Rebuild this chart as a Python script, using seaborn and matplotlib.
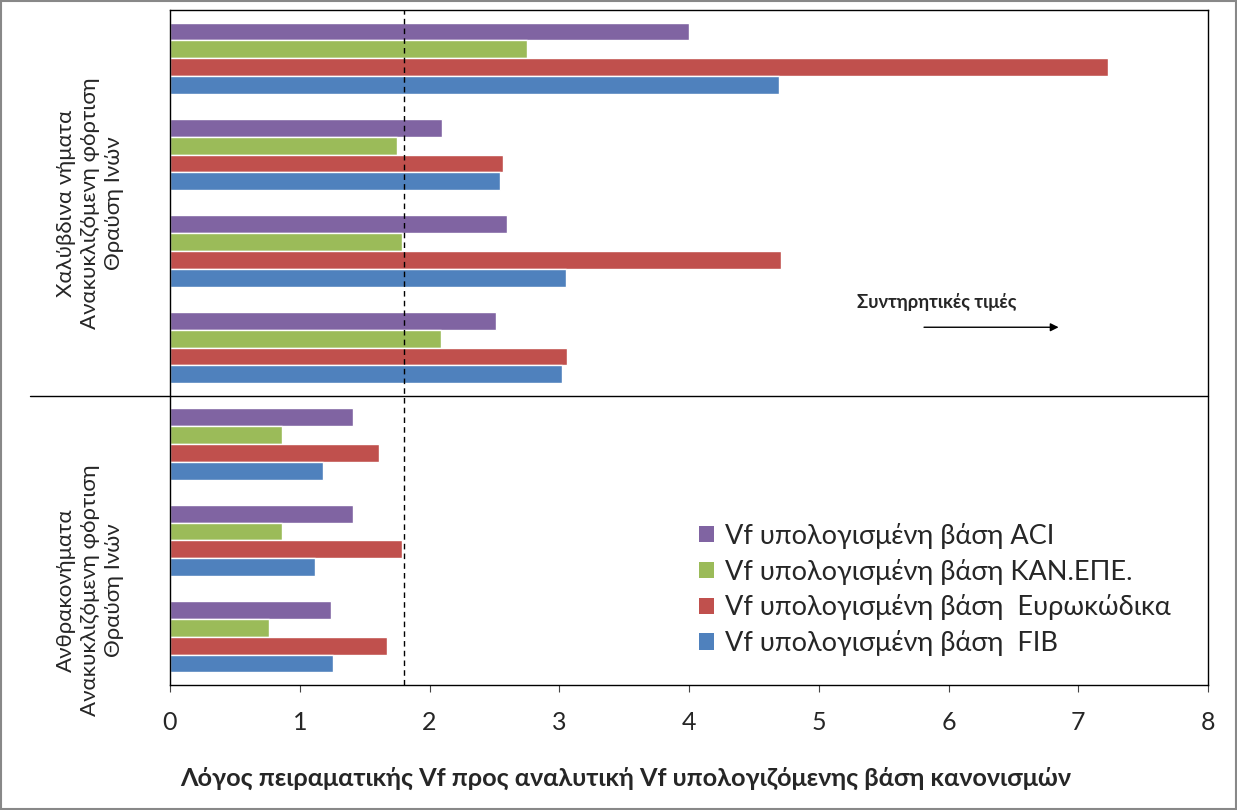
import matplotlib
matplotlib.use("Agg")
import matplotlib.pyplot as plt
import seaborn as sns
import pandas as pd
from matplotlib.patches import Patch, Rectangle

sns.set_theme(style="white")
plt.rcParams['font.family'] = ['Lato', 'DejaVu Sans']

# Data (top to bottom)
categories = ["Δ1", "Δ2", "Δ3", "Δ4", "Δ5", "Δ6", "Δ7"]
series = ["Vf υπολογισμένη βάση ACI",
          "Vf υπολογισμένη βάση ΚΑΝ.ΕΠΕ.",
          "Vf υπολογισμένη βάση  Ευρωκώδικα",
          "Vf υπολογισμένη βάση  FIB"]
aci = [4.00, 2.10, 2.60, 2.51, 1.41, 1.41, 1.24]
kan = [2.75, 1.75, 1.79, 2.09, 0.86, 0.86, 0.76]
ec = [7.23, 2.57, 4.71, 3.06, 1.61, 1.79, 1.67]
fib = [4.69, 2.54, 3.05, 3.02, 1.18, 1.12, 1.26]
colors = ["#8064A2", "#9BBB59", "#C0504D", "#4F81BD"]
group_labels = ["Χαλύβδινα νήματα\nΑνακυκλιζόμενη φόρτιση\nΘραύση Ινών",
                "Ανθρακονήματα\nΑνακυκλιζόμενη φόρτιση\nΘραύση Ινών"]
xticks = [0, 1, 2, 3, 4, 5, 6, 7, 8]
ref_value = 1.8
xlabel = "Λόγος πειραματικής Vf προς αναλυτική Vf υπολογιζόμενης βάση κανονισμών"
note = "Συντηρητικές τιμές"

rows = []
for s, vals in zip(series, [aci, kan, ec, fib]):
    for c, v in zip(categories, vals):
        rows.append({"cat": c, "series": s, "value": v})
df = pd.DataFrame(rows)

W, H = 1237, 810
fig = plt.figure(figsize=(W / 100, H / 100), dpi=100)
ax = fig.add_axes([170 / W, 1 - 685 / H, (1208 - 170) / W, (685 - 10) / H])

sns.barplot(data=df, y="cat", x="value", hue="series", order=categories,
            hue_order=series, palette=colors, orient="h", width=0.74,
            gap=0, saturation=1, ax=ax, legend=False, errorbar=None)

ax.set_xlim(0, 8)
ax.set_ylim(len(categories) - 0.5, -0.5)
ax.set_xticks(xticks)
ax.set_xticklabels([str(t) for t in xticks], fontsize=18)
ax.tick_params(axis="x", direction="out", length=5, width=0.8, color="#444444",
               bottom=True, pad=14)
ax.set_yticks([])
ax.set_ylabel("")
ax.set_xlabel("")
for sp in ax.spines.values():
    sp.set_color("black")
    sp.set_linewidth(1.0)

fig.text(626 / W, 1 - 778 / H, xlabel, fontsize=18.2, fontweight="bold",
         ha="center", va="center")

# reference dashed line
ax.axvline(ref_value, color="black", linestyle=(0, (4, 3)), linewidth=1.0)

# separator line between groups
ax.plot([(30 - 170) / (1208 - 170), 1], [3.5, 3.5], color="black", linewidth=1.0,
        transform=ax.get_yaxis_transform(), clip_on=False)

# group labels
fig.text(90 / W, 1 - 203 / H, group_labels[0], rotation=90, ha="center",
         va="center", fontsize=16, multialignment="center", linespacing=1.25)
fig.text(90 / W, 1 - 590 / H, group_labels[1], rotation=90, ha="center",
         va="center", fontsize=16, multialignment="center", linespacing=1.25)

# annotation
ax.text(5.91, 2.53, note, fontsize=13.2, fontweight="bold", ha="center",
        va="center")
ax.annotate("", xy=(6.87, 2.79), xytext=(5.79, 2.79),
            arrowprops=dict(arrowstyle="-|>", color="black", lw=1.0))

# legend
handles = [Patch(facecolor=c, edgecolor="none") for c in colors]
ax.legend(handles, series, loc="upper left",
          bbox_to_anchor=((688 - 170) / 1038, 1 - (512 - 10) / 675),
          frameon=False, fontsize=19.5, handlelength=0.55, handleheight=0.55,
          handletextpad=0.4, labelspacing=0.36, borderaxespad=0)

# figure border
fig.patches.append(Rectangle((0.001, 0.001), 0.998, 0.998, transform=fig.transFigure,
                             fill=False, edgecolor="#888888", linewidth=1.5))

fig.savefig("out.png", dpi=100, facecolor="white")
